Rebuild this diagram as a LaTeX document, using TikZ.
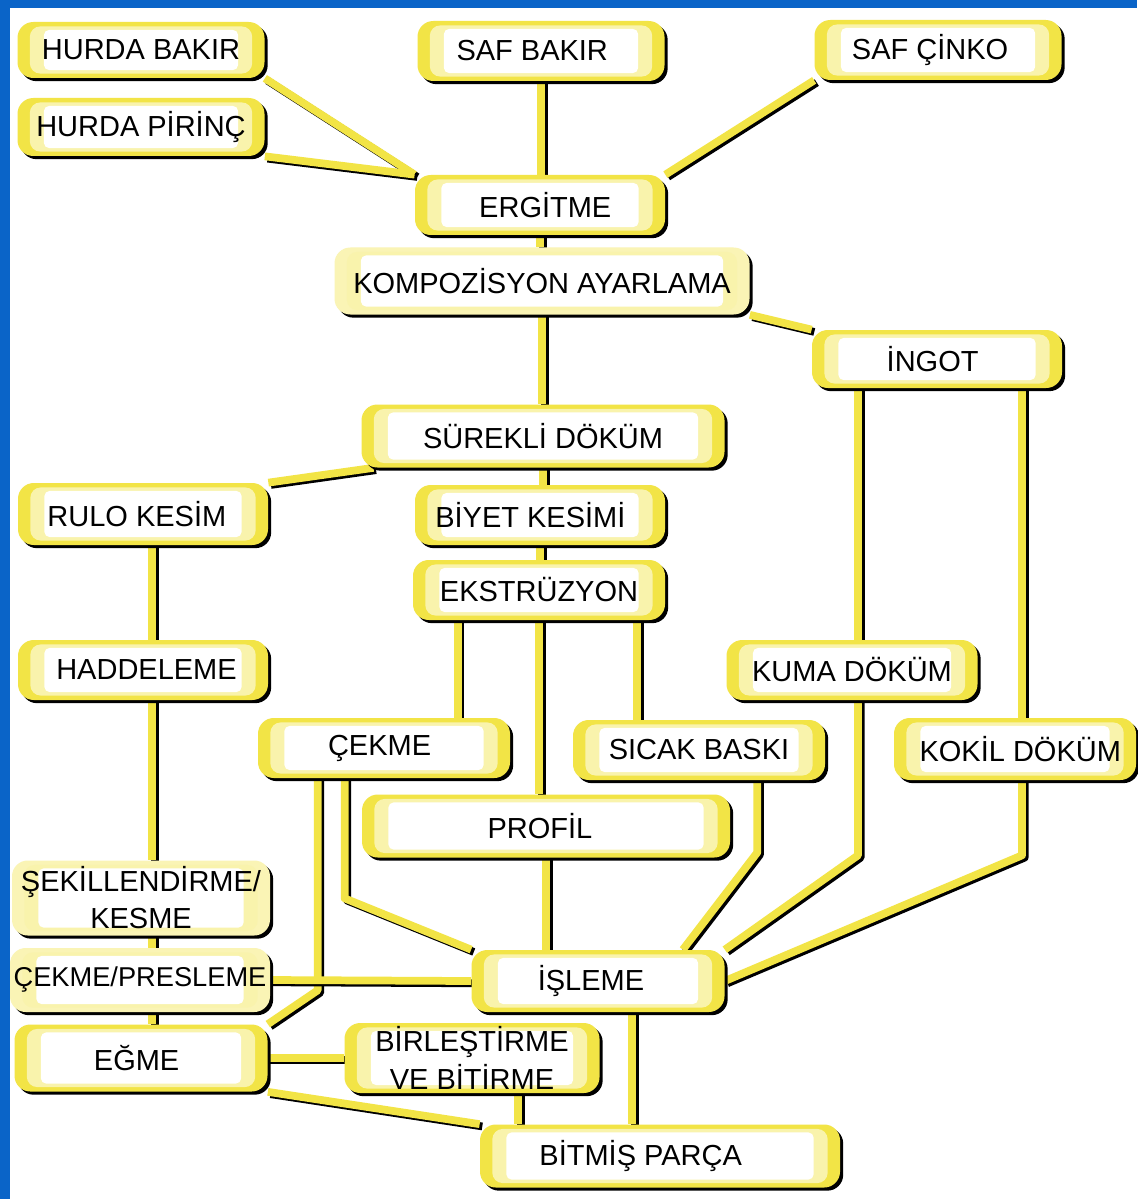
\documentclass[tikz,border=0pt]{standalone}
\usepackage{fontspec}
\setmainfont{Liberation Sans}
\usetikzlibrary{calc,backgrounds,shadows}
\definecolor{yel}{RGB}{242,228,70}
\definecolor{slideblue}{RGB}{10,100,200}
\newcommand\cnx[1]{\draw[connshadow] #1; \draw[conn] #1;}
\begin{document}
\begin{tikzpicture}[x=0.02cm,y=-0.02cm,
  wh/.style 2 args={minimum width=#1*0.02cm, minimum height=#2*0.02cm},
  box/.style={rounded corners=9pt, fill=yel, font=\fontsize{16.5}{19}\selectfont, align=center, inner sep=0pt,
    drop shadow={shadow xshift=1.8pt, shadow yshift=-1.8pt, fill=black, opacity=1},
    path picture={
      \fill[yel!45!white, rounded corners=6pt] ([shift={(7pt,-2.5pt)}]path picture bounding box.north west) rectangle ([shift={(-7pt,2.5pt)}]path picture bounding box.south east);
      \fill[white, rounded corners=3pt] ([shift={(15pt,-4.5pt)}]path picture bounding box.north west) rectangle ([shift={(-15pt,4.5pt)}]path picture bounding box.south east);
    }},
  faint/.style={box, fill=yel!40!white},
  conn/.style={line width=4.4pt, draw=yel, line join=round},
  connshadow/.style={line width=4.4pt, draw=black, line join=round, transform canvas={shift={(1.5pt,-1.3pt)}}}
]
\useasboundingbox (0,0) rectangle (1137,1199);

\node[box, wh={247}{56}] (hb) at (141,50) {HURDA BAKIR};
\node[box, wh={247}{58}] (hp) at (141,127) {HURDA PİRİNÇ};
\node[box, wh={247}{60}] (sb) at (541,51) {SAF BAKIR\hspace{10pt}};
\node[box, wh={247}{60}] (sc) at (938,50) {SAF ÇİNKO\hspace{9pt}};
\node[box, wh={250}{60}] (erg) at (540,205) {\hspace{6pt}ERGİTME};
\node[faint, wh={415}{67}] (komp) at (542,281) {KOMPOZİSYON AYARLAMA};
\node[box, wh={250}{58}] (ingot) at (937,359) {İNGOT\hspace{5pt}};
\node[box, wh={363}{63}] (sd) at (543,436) {SÜREKLİ DÖKÜM};
\node[box, wh={250}{62}] (rk) at (143,514) {RULO KESİM\hspace{7pt}};
\node[box, wh={250}{60}] (bk) at (540,515) {BİYET KESİMİ\hspace{11pt}};
\node[box, wh={252}{60}] (eks) at (539,590) {EKSTRÜZYON};
\node[box, wh={250}{60}] (had) at (143,670) {\hspace{4pt}HADDELEME};
\node[box, wh={251}{60}] (kuma) at (852,670) {KUMA DÖKÜM};
\node[box, wh={252}{60}] (cek) at (384,748) {ÇEKME\hspace{5pt}};
\node[box, wh={252}{60}] (sicak) at (699,750) {SICAK BASKI};
\node[box, wh={242}{62}] (kokil) at (1015,749) {\hspace{6pt}KOKİL DÖKÜM};
\node[box, wh={368}{63}] (profil) at (546,826) {PROFİL\hspace{7pt}};
\node[faint, wh={258}{75}] (sek) at (141,898) {ŞEKİLLENDİRME/\\[2pt]KESME\hspace{8pt}};
\node[faint, wh={260}{64}, font=\fontsize{15.5}{18}\selectfont] (cp) at (140,980) {ÇEKME/PRESLEME};
\node[box, wh={253}{62}] (isl) at (598,981) {İŞLEME\hspace{8pt}};
\node[box, wh={253}{67}] (egme) at (141,1058) {EĞME\hspace{5pt}};
\node[box, wh={255}{70}] (bir) at (472,1058) {BİRLEŞTİRME\\[3pt]VE BİTİRME\hspace{8pt}};
\node[box, wh={360}{63}] (bp) at (660,1156) {BİTMİŞ PARÇA\hspace{22pt}};

\begin{scope}[on background layer]
\fill[white] (0,0) rectangle (1137,1199);
\fill[slideblue] (0,0) rectangle (1137,8);
\fill[slideblue] (0,0) rectangle (10,1199);

\coordinate (r1) at ($(rk.south)+(9,0)$);
\coordinate (e1) at ($(eks.south west)+(45,0)$);
\coordinate (e3) at ($(eks.south east)+(-28,0)$);
\coordinate (c1) at ($(cek.south west)+(60,0)$);
\coordinate (c2) at ($(cek.south west)+(87,0)$);
\coordinate (s1) at ($(sicak.south east)+(-68,0)$);
\coordinate (i1) at ($(isl.north east)+(-42,0)$);
\coordinate (i2) at ($(isl.south)+(34,0)$);
\coordinate (b1) at ($(bir.south)+(46,0)$);
\coordinate (k1) at ($(kuma.north)+(6,0)$);
\coordinate (k2) at ($(kokil.north)+(7,0)$);

\cnx{(hb.south east) -- (erg.north west)}
\cnx{(hp.south east) -- (erg.north west)}
\cnx{(sb.south) -- (sb.south |- erg.north)}
\cnx{(sc.south west) -- (erg.north east)}
\cnx{(erg.south) -- (erg.south |- komp.north)}
\cnx{(komp.south east) -- (ingot.north west)}
\cnx{(komp.south) -- (komp.south |- sd.north)}
\cnx{(k1 |- ingot.south) -- (k1)}
\cnx{(k1 |- kuma.south) -- ++(0,155) -- (isl.north east)}
\cnx{(k2 |- ingot.south) -- (k2)}
\cnx{(k2 |- kokil.south) -- ++(0,75) -- (isl.east)}
\cnx{([xshift=7pt]sd.south west) -- (rk.north east)}
\cnx{(sd.south) -- (sd.south |- bk.north)}
\cnx{(bk.south) -- (bk.south |- eks.north)}
\cnx{(e1) -- (e1 |- cek.north)}
\cnx{(eks.south) -- (eks.south |- profil.north)}
\cnx{(e3) -- (e3 |- sicak.north)}
\cnx{(r1) -- (r1 |- had.north)}
\cnx{(r1 |- had.south) -- (r1 |- sek.north)}
\cnx{(r1 |- sek.south) -- (r1 |- cp.north)}
\cnx{(r1 |- cp.south) -- (r1 |- egme.north)}
\cnx{(c2) -- ++(0,120) -- (isl.north west)}
\cnx{(c1) -- ++(0,212) -- (egme.north east)}
\cnx{(cp.east) -- (isl.west)}
\cnx{(profil.south) -- (profil.south |- isl.north)}
\cnx{(s1) -- ++(0,72) -- (i1)}
\cnx{(i2) -- (i2 |- bp.north)}
\cnx{(b1) -- (b1 |- bp.north)}
\cnx{(egme.east) -- (bir.west)}
\cnx{(egme.south east) -- (bp.north west)}
\end{scope}
\end{tikzpicture}
\end{document}
